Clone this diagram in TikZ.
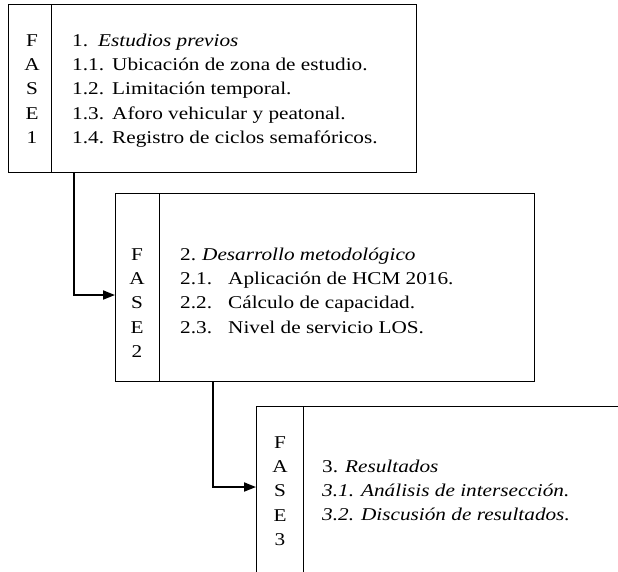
\documentclass[tikz,border=0pt]{standalone}
\usepackage{fontspec}
\setmainfont{Liberation Serif}[FakeStretch=1.18]
\usetikzlibrary{arrows.meta,positioning}

\newcommand{\numero}[2]{\makebox[#1][l]{#2}}

\begin{document}
\begin{tikzpicture}[
    x=1pt, y=-1pt,
    caja/.style={draw, line width=0.9pt, inner sep=0pt, anchor=north west},
    letras/.style={align=center, inner sep=0pt, anchor=base, font=\fontsize{18}{24.4}\selectfont},
    lista/.style={align=left, inner sep=0pt, anchor=base west, font=\fontsize{18}{24.4}\selectfont},
    flecha/.style={-{Triangle[length=12pt,width=9pt]}, line width=1.8pt}
]
    \clip (0,0) rectangle (618,571);

    % fase 1 (anclas en la base de la ultima linea)
    \node[caja, minimum width=43pt, minimum height=168pt] (f1) at (8,4) {};
    \node[caja, minimum width=365pt, minimum height=168pt] (c1) at (51,4) {};
    \node[letras] (l1) at (32,143.6) {F\\A\\S\\E\\1};
    \node[lista] (t1) at (72,143.6) {\numero{26pt}{1.}\textit{Estudios previos}\\
        \numero{40pt}{1.1.}Ubicación de zona de estudio.\\
        \numero{40pt}{1.2.}Limitación temporal.\\
        \numero{40pt}{1.3.}Aforo vehicular y peatonal.\\
        \numero{40pt}{1.4.}Registro de ciclos semafóricos.};

    % fase 2
    \node[caja, minimum width=44pt, minimum height=188pt] (f2) at (115,193) {};
    \node[caja, minimum width=375pt, minimum height=188pt] (c2) at (159,193) {};
    \node[letras] (l2) at (137,357.6) {F\\A\\S\\E\\2};
    \node[lista] (t2) at (180,333.2) {\numero{22pt}{2.}\textit{Desarrollo metodológico}\\
        \numero{48pt}{2.1.}Aplicación de HCM 2016.\\
        \numero{48pt}{2.2.}Cálculo de capacidad.\\
        \numero{48pt}{2.3.}Nivel de servicio LOS.};

    % fase 3 (cortada por el borde)
    \node[caja, minimum width=47pt, minimum height=240pt] (f3) at (256,406) {};
    \node[caja, minimum width=340pt, minimum height=240pt] (c3) at (303,406) {};
    \node[letras] (l3) at (280,545.6) {F\\A\\S\\E\\3};
    \node[lista] (t3) at (322,520.8) {\numero{23pt}{3.}\textit{Resultados}\\
        \textit{3.1. Análisis de intersección.}\\
        \textit{3.2. Discusión de resultados.}};

    \draw[flecha] ([xshift=22pt]f1.south east) |- ([yshift=-102pt]f2.north west);
    \draw[flecha] ([xshift=53pt]f2.south east) |- ([yshift=-81pt]f3.north west);
\end{tikzpicture}
\end{document}
